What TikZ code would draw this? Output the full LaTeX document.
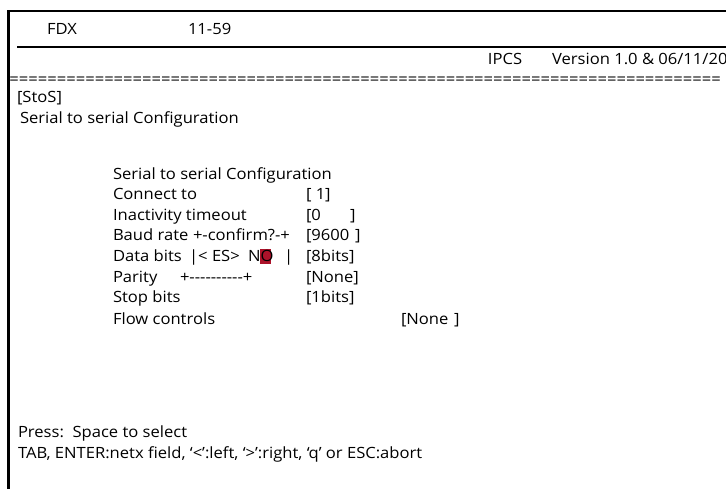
\documentclass[tikz,border=0pt]{standalone}
\usepackage{fontspec}
\setmainfont[FakeStretch=1.07,Ligatures=TeXOff]{Open Sans}
\definecolor{cursorred}{RGB}{172,18,42}
\begin{document}
\begin{tikzpicture}[x=1pt,y=-1pt,
  txt/.style={anchor=base west,inner sep=0pt,outer sep=0pt,font=\fontsize{15.5}{18}\selectfont},
  rtxt/.style={anchor=base east,inner sep=0pt,outer sep=0pt,font=\fontsize{15.5}{18}\selectfont},
  frame/.style={line width=2.4pt,line cap=butt}]
\useasboundingbox (0,0) rectangle (726,488);
% frame lines
\coordinate (tl) at (8.5,11);
\coordinate (tr) at (727,11);
\coordinate (bl) at (8.5,489);
\coordinate (sl) at (17,47);
\coordinate (sr) at (727,47);
\draw[frame] (bl) -- (tl) -- (tr);
\draw[frame] (sl) -- (sr);
% header
\node[txt] (fdx) at (47,34) {FDX};
\node[txt] (num) at (188,34) {11-59};
\node[rtxt] (ver) at (727.5,64.5) {Version 1.0 \& 06/11/20};
\node[rtxt] (ipcs) at ([xshift=-30pt]ver.base west) {IPCS};
\node[txt] (eq) at (8,84) {\makebox[714pt][l]{\cleaders\hbox{=}\hfill}};
\node[txt] (stos) at (17,102.5) {[StoS]};
\node[txt] (title) at (20,123.5) {Serial to serial Configuration};
% cursor
\fill[cursorred] (260,248.5) rectangle (271,263.5);
% rows
\node[txt] (r0) at (113,179) {Serial to serial Configuration};
\node[txt] (r1) at (113,199.5) {Connect to};
\node[txt] (v1) at (306,199.5) {[ 1]};
\node[txt] (r2) at (113,220) {Inactivity timeout};
\node[txt] (v2a) at (306,220) {[0};
\node[txt] (v2b) at (350,220) {]};
\node[txt] (r3) at (113,240.5) {Baud rate};
\node[txt] (c3) at (193,240.5) {+-confirm?-+};
\node[txt] (v3a) at (306,240.5) {[9600};
\node[txt] (v3b) at (355,240.5) {]};
\node[txt] (r4) at (113,261) {Data bits};
\node[txt] (c4a) at (189,261) {|<};
\node[txt] (c4b) at (212,261) {ES>};
\node[txt] (c4c) at (248,261) {NO};
\node[txt] (c4d) at (284,261) {|};
\node[txt] (v4) at (306,261) {[8bits]};
\node[txt] (r5) at (113,282) {Parity};
\node[txt] (c5) at (180,282) {+----------+};
\node[txt] (v5) at (306,282) {[None]};
\node[txt] (r6) at (113,302.5) {Stop bits};
\node[txt] (v6) at (306,302.5) {[1bits]};
\node[txt] (r7) at (113,324) {Flow controls};
\node[txt] (v7a) at (401,324) {[None};
\node[txt] (v7b) at (454,324) {]};
% footer
\node[txt] (press) at (18,437.5) {Press:\ \ Space to select};
\node[txt] (keys) at (18,458.5) {TAB, ENTER:netx field, ‘<’:left, ‘>’:right, ‘q’ or ESC:abort};
\end{tikzpicture}
\end{document}
